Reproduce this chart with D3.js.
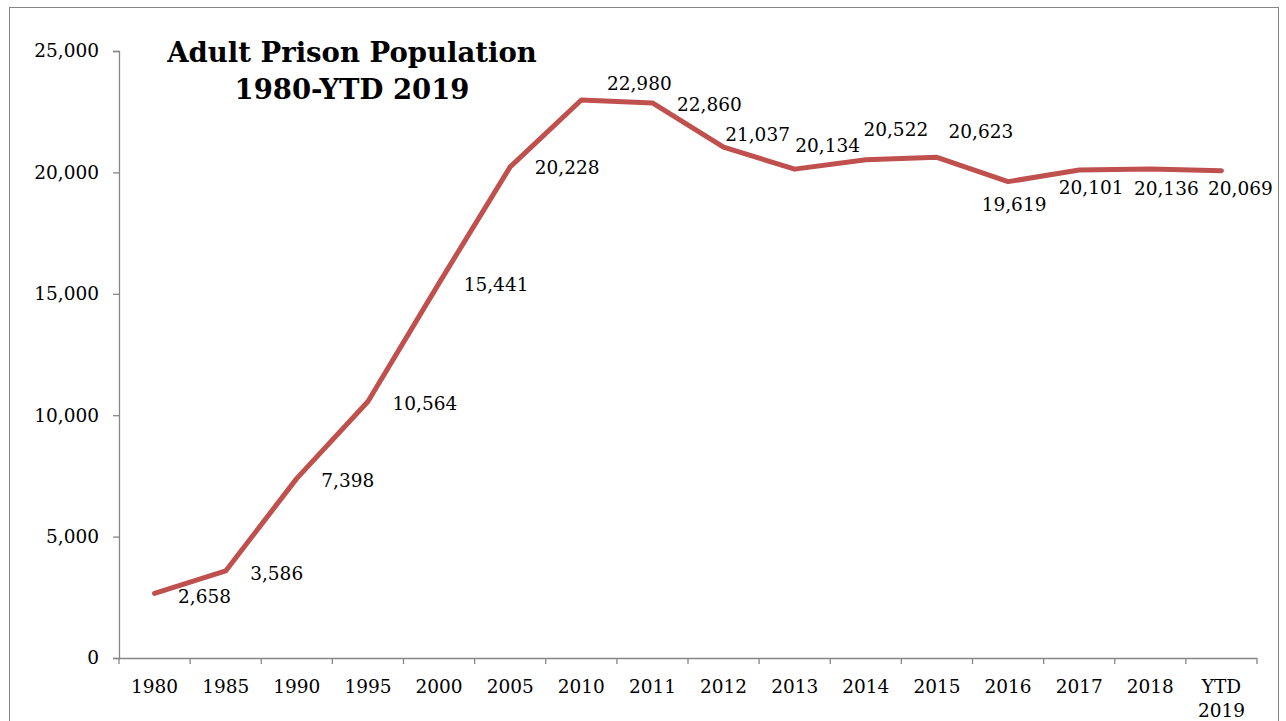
<!DOCTYPE html>
<html lang="en">
<head>
  <meta charset="utf-8">
  <title>Adult Prison Population 1980-YTD 2019</title>
  <script src="https://d3js.org/d3.v7.js"></script>
  <style>
    body { margin: 0; background: #fff; }
    svg text { font-family: "DejaVu Serif", "Liberation Serif", serif; fill: #000; }
  </style>
</head>
<body>
  <div id="my_dataviz"></div>

  <script>
    // Data
    var years = ["1980", "1985", "1990", "1995", "2000", "2005", "2010", "2011", "2012",
                 "2013", "2014", "2015", "2016", "2017", "2018", "YTD 2019"];
    var population = [2658, 3586, 7398, 10564, 15441, 20228, 22980, 22860, 21037,
                      20134, 20522, 20623, 19619, 20101, 20136, 20069];
    var yTicks = [0, 5000, 10000, 15000, 20000, 25000];

    // label placement (offset of label centre from the point)
    var labelDx = [50, 51, 51, 57, 57, 57, 58, 57, 34, 33, 30, 44, 6, 12, 16, 19];
    var labelDy = [3, 3, 2, 2, 1, 1, -17, 2, -13, -24, -30, -26, 23, 18, 19, 18];

    var W = 1286, H = 721;
    var margin = {top: 51, right: 29, bottom: 63, left: 119},
        width = W - margin.left - margin.right,
        height = H - margin.top - margin.bottom;

    var root = d3.select("#my_dataviz")
      .append("svg")
      .attr("width", W)
      .attr("height", H);

    // outer chart border
    root.append("rect")
      .attr("x", 9.5).attr("y", 7.5)
      .attr("width", 1269).attr("height", 730)
      .attr("fill", "none")
      .attr("stroke", "#868686")
      .attr("stroke-width", 1);

    var svg = root.append("g")
      .attr("transform", "translate(" + margin.left + "," + margin.top + ")");

    var x = d3.scaleBand()
      .domain(years)
      .range([0, width]);

    var y = d3.scaleLinear()
      .domain([0, 25000])
      .range([height, 0]);

    var fs = "18.5px";

    // Y axis
    var yAxis = svg.append("g")
      .call(d3.axisLeft(y).tickValues(yTicks).tickFormat(d3.format(",")).tickSize(6).tickPadding(14));
    yAxis.selectAll("text").style("font-size", fs);

    // X axis: ticks at band boundaries
    var xAxisG = svg.append("g")
      .attr("transform", "translate(0," + height + ")");
    xAxisG.append("line")
      .attr("x1", 0).attr("x2", width)
      .attr("y1", 0.5).attr("y2", 0.5);
    xAxisG.selectAll(".bt")
      .data(d3.range(years.length + 1))
      .enter().append("line")
      .attr("class", "bt")
      .attr("x1", function(i) { return i < years.length ? x(years[i]) : width; })
      .attr("x2", function(i) { return i < years.length ? x(years[i]) : width; })
      .attr("y1", 0).attr("y2", 6);

    xAxisG.selectAll(".xl")
      .data(years)
      .enter().append("text")
      .attr("class", "xl")
      .attr("text-anchor", "middle")
      .style("font-size", fs)
      .attr("x", function(d) { return x(d) + x.bandwidth() / 2; })
      .attr("y", 35)
      .each(function(d) {
        var parts = d.split(" ");
        var t = d3.select(this);
        parts.forEach(function(p, k) {
          t.append("tspan")
            .attr("x", x(d) + x.bandwidth() / 2)
            .attr("dy", k === 0 ? 0 : 24)
            .text(p);
        });
      });

    [yAxis, xAxisG].forEach(function(g) {
      g.selectAll("line, path").attr("stroke", "#868686").attr("stroke-width", 1.3);
    });

    // Line
    var line = d3.line()
      .x(function(d, i) { return x(years[i]) + x.bandwidth() / 2; })
      .y(function(d) { return y(d); });

    svg.append("path")
      .datum(population)
      .attr("fill", "none")
      .attr("stroke", "#C0504D")
      .attr("stroke-width", 5)
      .attr("stroke-linejoin", "round")
      .attr("stroke-linecap", "round")
      .attr("d", line);

    // Data labels
    svg.selectAll(".dl")
      .data(population)
      .enter().append("text")
      .attr("class", "dl")
      .attr("text-anchor", "middle")
      .attr("dominant-baseline", "central")
      .style("font-size", fs)
      .attr("x", function(d, i) { return x(years[i]) + x.bandwidth() / 2 + labelDx[i]; })
      .attr("y", function(d, i) { return y(d) + labelDy[i]; })
      .text(function(d) { return d3.format(",")(d); });

    // Title
    var title = root.append("text")
      .attr("text-anchor", "middle")
      .style("font-size", "27.5px")
      .style("font-weight", "bold")
      .attr("x", 352).attr("y", 62);
    title.append("tspan").attr("x", 352).text("Adult Prison Population");
    title.append("tspan").attr("x", 352).attr("dy", 37).text("1980-YTD 2019");
  </script>
</body>
</html>
